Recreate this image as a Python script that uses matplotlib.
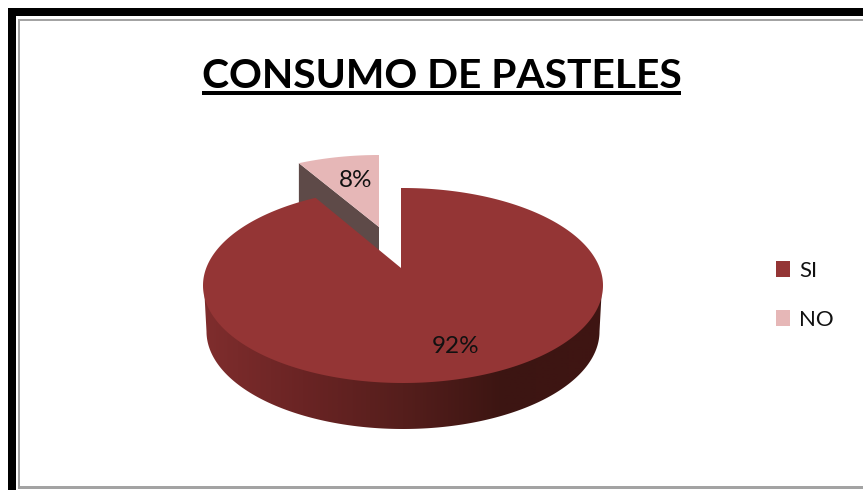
import numpy as np
import matplotlib
matplotlib.use("Agg")
import matplotlib.pyplot as plt
from matplotlib.colors import LinearSegmentedColormap
from matplotlib.patches import Polygon, Rectangle

# Survey results
categories = ["SI", "NO"]
values = [92, 8]
percent_labels = ["92%", "8%"]
title_text = "CONSUMO DE PASTELES"
slice_colors = ["#943535", "#E6B7B7"]

W, H = 863, 490
plt.rcParams["font.family"] = ["Lato", "DejaVu Sans"]
fig = plt.figure(figsize=(W / 100, H / 100), dpi=100, facecolor="white")
ax = fig.add_axes([0, 0, 1, 1])
ax.set_xlim(0, W)
ax.set_ylim(H, 0)
ax.axis("off")

# Page border and chart frame
ax.add_patch(Rectangle((7.5, 8), W, H, fc="black", ec="none", zorder=0))
ax.add_patch(Rectangle((15.5, 16), W, H, fc="white", ec="none", zorder=1))
ax.add_patch(Rectangle((18, 19), W, 469.5, fc="#A3A3A3", ec="none", zorder=2))
ax.add_patch(Rectangle((20, 21), W, 465, fc="white", ec="none", zorder=3))

# Ellipse geometry of the tilted pie
RX, RY, DEPTH = 200, 97.5, 46
CX, CY = 403, 285.5
total = sum(values)
sweep = [v / total * 360 for v in values]


def arc(cx, cy, a0, a1, n=240, rx=RX):
    t = np.radians(np.linspace(a0, a1, n))
    return np.column_stack([cx + rx * np.cos(t), cy - RY * np.sin(t)])


# Tilting the pie narrows the slices that sit near the back of the ellipse
no_end = 90 + 0.82 * sweep[1]
si_start = 90 + 0.90 * sweep[1]

# Exploded NO slice: inner wall first, then its top
no_cx, no_cy = 379, 252.5
no_apex = np.array([379.0, 227.0])
no_arc = arc(no_cx, no_cy, 90, no_end, 60)
wall = np.array([no_arc[-1], no_apex, no_apex + [0, DEPTH], no_arc[-1] + [0, DEPTH]])
ax.add_patch(Polygon(wall, fc="#5E4A48", ec="none", zorder=4))
ax.add_patch(Polygon(np.vstack([no_apex, no_arc]), fc=slice_colors[1], ec="none", zorder=5))

# Outer rim of the SI slice with its left-to-right shading; it runs up under the top face
rim_cmap = LinearSegmentedColormap.from_list(
    "rim", ["#7F2D2D", "#6A2424", "#551E1C", "#3C1512", "#3F1513"]
)
bottom = arc(CX, CY + DEPTH, 180, 360, rx=RX - 3.5)
rim = np.vstack([[CX - RX + 1, CY], bottom, [CX + RX - 1, CY]])
rim_patch = Polygon(rim, fc="none", ec="none", zorder=6)
ax.add_patch(rim_patch)
shade = ax.imshow(
    np.linspace(0, 1, 400).reshape(1, -1),
    extent=(CX - RX, CX + RX, CY + RY + DEPTH + 2, CY - 5),
    cmap=rim_cmap,
    aspect="auto",
    zorder=6,
)
shade.set_clip_path(rim_patch)
ax.set_xlim(0, W)
ax.set_ylim(H, 0)

# Top face of the SI slice
si_apex = np.array([401.0, 268.0])
si_arc = arc(CX, CY, si_start, 90 + 360, 500)
ax.add_patch(Polygon(np.vstack([si_apex, si_arc, [401.0, 188.0]]),
                     fc=slice_colors[0], ec="none", zorder=7))

# Percentage labels
label_pos = [(456, 346), (355.5, 180.5)]
for text, (x, y) in zip(percent_labels, label_pos):
    ax.text(x, y, text, fontsize=17.5, color="#111111", ha="center", va="center", zorder=9)

# Underlined title
title = ax.text(441.5, 87.5, title_text, fontsize=29.3, fontweight="bold", color="black",
                ha="center", va="baseline", zorder=9)
fig.canvas.draw()
bbox = title.get_window_extent().transformed(ax.transData.inverted())
ax.add_patch(Rectangle((bbox.x0, 91.5), bbox.width, 3.2, fc="black", ec="none", zorder=9))

# Legend
legend_rows = [269, 318]
for name, color, y in zip(categories, slice_colors, legend_rows):
    ax.add_patch(Rectangle((776, y - 8), 14, 15.5, fc=color, ec="none", zorder=9))
    ax.text(799, y + 2, name, fontsize=16, color="#111111", ha="left", va="center", zorder=9)

fig.savefig("out.png", dpi=100)
